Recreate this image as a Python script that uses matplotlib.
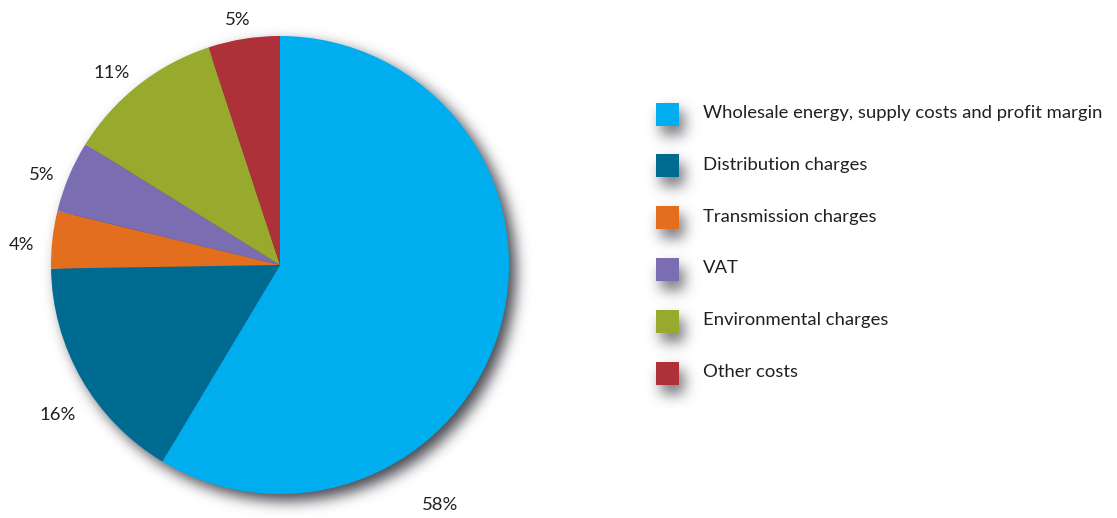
import numpy as np
import matplotlib
matplotlib.use("Agg")
import matplotlib.pyplot as plt
from matplotlib.patches import Rectangle

# ---- data ----
categories = ["Wholesale energy, supply costs and profit margin",
              "Distribution charges", "Transmission charges", "VAT",
              "Environmental charges", "Other costs"]
values = [58, 16, 4, 5, 11, 5]
pct_labels = ["58%", "16%", "4%", "5%", "11%", "5%"]
colors = ["#00aeef", "#006b91", "#e36f1e", "#7b6db2", "#97aa2d", "#ae3038"]

W, H = 1117, 518
fig = plt.figure(figsize=(W / 100, H / 100), dpi=100)
fig.patch.set_facecolor("white")

plt.rcParams['font.family'] = ['Lato', 'DejaVu Sans']
txt_color = "#231f20"

# ---- background axes in pixel coordinates (shadows + legend) ----
bg = fig.add_axes([0, 0, 1, 1])
bg.set_xlim(0, W)
bg.set_ylim(H, 0)
bg.axis("off")

def blur(a, sigma):
    r = int(3 * sigma)
    x = np.arange(-r, r + 1)
    k = np.exp(-x**2 / (2 * sigma**2))
    k /= k.sum()
    a = np.apply_along_axis(lambda m: np.convolve(m, k, mode="same"), 0, a)
    a = np.apply_along_axis(lambda m: np.convolve(m, k, mode="same"), 1, a)
    return a

cx, cy, R = 280, 265, 229
yy, xx = np.mgrid[0:H, 0:W] + 0.5
mask = np.zeros((H, W))
# pie shadow
mask[(xx - (cx + 7))**2 + (yy - (cy + 7))**2 <= R**2] = 0.9
# legend rows
n = len(categories)
row_y = [114 + i * 51.8 for i in range(n)]
sq = 23
for y in row_y:
    x0, y0 = 656 + 5, y - sq / 2 + 9
    mask[(xx >= x0) & (xx <= x0 + sq) & (yy >= y0) & (yy <= y0 + sq)] = 0.7
alpha = np.clip(blur(mask, 7), 0, 1)
img = np.zeros((H, W, 4))
img[..., 0] = 0.2
img[..., 1] = 0.2
img[..., 2] = 0.24
img[..., 3] = alpha
bg.imshow(img, extent=(0, W, H, 0), interpolation="bilinear", zorder=0)

for i, (y, c, lab) in enumerate(zip(row_y, colors, categories)):
    bg.add_patch(Rectangle((656, y - sq / 2), sq, sq, facecolor=c,
                           edgecolor="none", zorder=2))
    bg.text(703, y - 1, lab, fontsize=13.3, color=txt_color, va="center",
            ha="left", fontweight="normal", zorder=3)

# ---- pie axes ----
half_w = 280 / R
ax = fig.add_axes([0, 0, 560 / W, 1])
ax.patch.set_alpha(0)

wedges, _ = ax.pie(values, colors=colors, startangle=90, counterclock=False,
                   radius=1.0, center=(0, 0), frame=True,
                   wedgeprops=dict(linewidth=0))
ax.set_aspect("auto")
ax.set_xlim(-half_w, half_w)
ax.set_ylim(-(H - cy) / R, cy / R)
ax.axis("off")

label_xy = [(0.699, -1.048), (-0.969, -0.655), (-1.127, 0.087),
            (-1.039, 0.393), (-0.734, 0.838), (-0.183, 1.070)]
for (lx, ly), t in zip(label_xy, pct_labels):
    ax.text(lx, ly, t, fontsize=13.3, color=txt_color, ha="center",
            va="center", fontweight="normal")

fig.savefig("out.png", dpi=100, facecolor="white")
